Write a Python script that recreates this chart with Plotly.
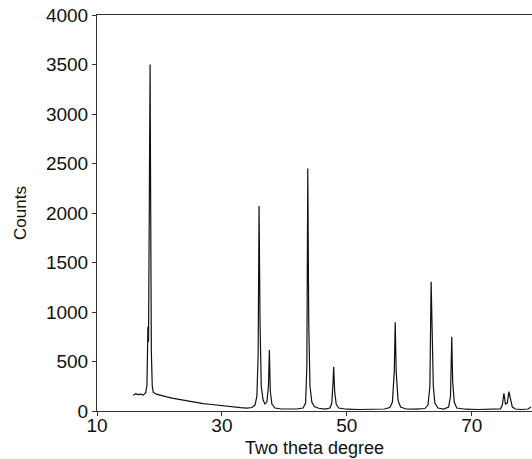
import plotly.graph_objects as go

two_theta = [
    15.8, 16.2, 16.6, 17.0, 17.4, 17.8, 18.0, 18.15, 18.25, 18.4, 18.5, 18.6, 18.7, 18.85,
    19.0, 19.5, 20, 21, 22, 23, 24, 25, 26, 27, 28, 29, 30, 31, 32, 33, 34,
    34.8, 35.3, 35.6, 35.8, 35.95, 36.1, 36.3, 36.6, 36.9, 37.2, 37.45, 37.6, 37.75, 38.0,
    38.5, 39.5, 41, 42, 43, 43.4, 43.6, 43.75, 43.9, 44.1, 44.4, 44.8, 45.5, 46.5,
    47.3, 47.6, 47.8, 47.9, 48.05, 48.3, 48.7, 50, 52, 54, 56, 56.9, 57.3, 57.6, 57.75,
    57.9, 58.2, 58.6, 59.5, 61, 62.5, 63.0, 63.3, 63.5, 63.7, 63.85, 64.1, 64.6, 65.5,
    66.3, 66.6, 66.8, 66.95, 67.2, 67.6, 69, 71, 73, 74.6, 74.9, 75.15, 75.4, 75.7,
    75.95, 76.2, 76.5, 77, 78, 79, 79.5,
]
counts = [
    160, 175, 165, 170, 160, 185, 260, 850, 700, 2600, 3500, 2000, 600, 250,
    190, 170, 160, 145, 130, 118, 105, 95, 85, 75, 68, 60, 52, 45, 40, 35, 30,
    35, 60, 150, 560, 2070, 900, 250, 110, 70, 90, 250, 615, 200, 70,
    30, 20, 18, 20, 30, 80, 450, 2450, 900, 250, 90, 45, 28, 20,
    30, 80, 300, 447, 200, 70, 30, 18, 15, 18, 20, 35, 90, 400, 896,
    400, 110, 40, 20, 18, 25, 60, 250, 1306, 700, 250, 80, 30, 20,
    40, 150, 750, 300, 90, 30, 18, 15, 18, 22, 60, 179, 70, 80,
    195, 110, 40, 20, 15, 20, 40,
]

x_ticks = [10, 30, 50, 70]
y_ticks = [0, 500, 1000, 1500, 2000, 2500, 3000, 3500, 4000]

fig = go.Figure()
fig.add_trace(go.Scatter(
    x=two_theta, y=counts, mode="lines",
    line=dict(color="#111111", width=1.2),
    showlegend=False,
))

font = dict(family="Liberation Sans, Arial, sans-serif", size=19, color="#111111")
title_font = dict(family=font["family"], size=18, color="#111111")

fig.update_layout(
    width=532, height=459,
    margin=dict(l=97, r=0, t=15, b=48),
    paper_bgcolor="white", plot_bgcolor="white",
    font=font,
    xaxis=dict(
        range=[10, 79.65], tickvals=x_ticks, ticks="outside", ticklen=4,
        tickcolor="#333333", showline=True, linecolor="#333333", linewidth=1,
        mirror=True, showgrid=False, zeroline=False, ticklabelstandoff=-7,
    ),
    yaxis=dict(
        range=[0, 4000], tickvals=y_ticks, ticks="outside", ticklen=4,
        tickcolor="#333333", showline=True, linecolor="#333333", linewidth=1,
        showgrid=False, zeroline=False,
        title=dict(text="Counts", standoff=14, font=dict(family=font["family"], size=17, color="#111111")),
    ),
    annotations=[dict(
        text="Two theta degree", xref="paper", yref="paper", x=0.5, y=-0.0934,
        xanchor="center", yanchor="middle", showarrow=False, font=title_font,
    )],
)

# remove the default 8px page margin so the figure fills the window exactly
fig.write_html(
    "out.html",
    config={"displayModeBar": False},
    post_script="document.body.style.margin='0';",
)
